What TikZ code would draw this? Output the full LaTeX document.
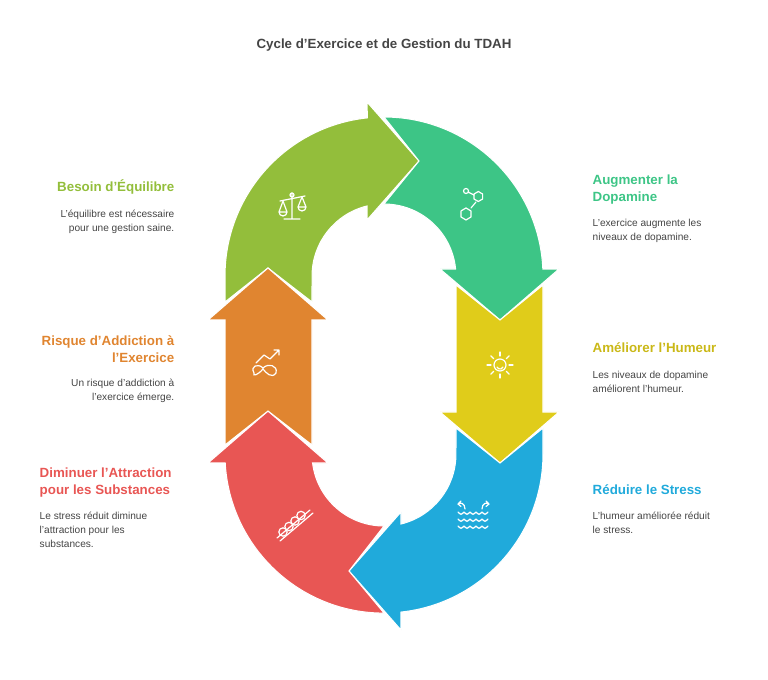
\documentclass[tikz,border=0pt]{standalone}
\usepackage{fontspec}
\setmainfont{Liberation Sans}
\definecolor{clime}{HTML}{93BE3B}
\definecolor{cgreen}{HTML}{3DC586}
\definecolor{cyel}{HTML}{E0CC1A}
\definecolor{cblue}{HTML}{20AADB}
\definecolor{cred}{HTML}{E85654}
\definecolor{corange}{HTML}{E08530}
\definecolor{ctext}{HTML}{444444}
\begin{document}
\begin{tikzpicture}[x=0.75pt,y=0.75pt,
  seg/.style={draw=white,line width=0.8pt,line join=miter},
  ico/.style={draw=white,line width=0.9pt,line cap=round,line join=round},
  head/.style={font=\bfseries\fontsize{10}{12.5}\selectfont},
  body/.style={text=ctext,font=\fontsize{7.6}{10.8}\selectfont}]
\useasboundingbox (0,0) rectangle (768,679);
% lime
\path[seg,fill=clime] (225,377) -- (225,403) arc[start angle=180,end angle=96,radius=159]
  -- (367,577) -- (419,518) -- (367,459) -- (367,473) arc[start angle=103.7,end angle=180,radius=72]
  -- (312,377) -- (268,411) -- cycle;
% green
\path[seg,fill=cgreen] (384,562) arc[start angle=90,end angle=2.5,radius=159]
  -- (559,410) -- (500,359) -- (440,410) -- (455.6,410) arc[start angle=5.6,end angle=90,radius=72]
  -- (419,518) -- cycle;
% yellow
\path[seg,fill=cyel] (456,394) -- (500,359) -- (543,394) -- (543,267) -- (559,267) -- (500,216)
  -- (440,267) -- (456,267) -- cycle;
% blue
\path[seg,fill=cblue] (456,251) -- (500,216) -- (543,251) -- (543,225) arc[start angle=0,end angle=-83.9,radius=159]
  -- (401,49) -- (349,108) -- (401,167) -- (401,155) arc[start angle=-76.3,end angle=0,radius=72] -- cycle;
% red
\path[seg,fill=cred] (384,66) -- (349,108) -- (384,153) arc[start angle=-90,end angle=-172.8,radius=72]
  -- (328,216) -- (268,268) -- (208,216) -- (225.2,216) arc[start angle=-176.8,end angle=-90,radius=159] -- cycle;
% orange
\path[seg,fill=corange] (312,234) -- (268,268) -- (225,234) -- (225,359) -- (208,359) -- (268,411)
  -- (328,359) -- (312,359) -- cycle;

% icons
% scale
\draw[ico] (292,486) -- (292,461) (284,460) -- (300,460) (280,478) -- (305,483);
\draw[ico] (292,484) circle (2);
\draw[ico] (283,478) -- (279,467) -- (287,467) -- cycle (279,467) arc[start angle=180,end angle=360,radius=4];
\draw[ico] (302,482) -- (298,472) -- (306,472) -- cycle (298,472) arc[start angle=180,end angle=360,radius=4];
% molecule
\draw[ico] (466,488) circle (2.5) (468,487) -- (474,484);
\draw[ico] (474,480) -- ++(0,5) -- ++(4.3,2.5) -- ++(4.3,-2.5) -- ++(0,-5) -- ++(-4.3,-2.5) -- cycle;
\draw[ico] (476,477) -- (471,471);
\draw[ico] (461,462) -- ++(0,6) -- ++(5,3) -- ++(5,-3) -- ++(0,-6) -- ++(-5,-3) -- cycle;
% sun
\draw[ico] (500,314) circle (6);
\foreach \a in {0,45,...,315} \draw[ico] (500,314) ++(\a:9) -- ++(\a:4);
\draw[ico] (497,312) arc[start angle=200,end angle=340,radius=3.2];
% trend icon (orange)
\draw[ico] (256,316) -- (264,324) -- (270,320) -- (279,329) (274,329) -- (279,329) -- (279,324);
\draw[ico] (254,306) .. controls (250,313) and (258,316) .. (263,311) .. controls (268,316) and (278,314) .. (276,306)
  .. controls (272,300) and (266,306) .. (263,310) .. controls (258,304) and (252,302) .. (254,306);
% knot
\foreach \i in {0,1,2,3} \draw[ico] (283+\i*6,147+\i*5.5) circle (4.2);
\draw[ico] (277,141) -- (310,169) (280,138) -- (313,166);
% waves
\foreach \yy in {153,160,167} \draw[ico] (458,\yy) .. controls (461,\yy-3) .. (464,\yy) .. controls (467,\yy-3) .. (470,\yy)
  .. controls (473,\yy-3) .. (476,\yy) .. controls (479,\yy-3) .. (482,\yy) .. controls (485,\yy-3) .. (488,\yy);
\draw[ico] (465,170) .. controls (465,176) and (460,177) .. (458,175) (458,175) -- (461,178) (458,175) -- (461,172.5);
\draw[ico] (482,170) .. controls (482,176) and (487,177) .. (489,175) (489,175) -- (486,178) (489,175) -- (486,172.5);

% texts
\node[head,text=ctext] (title) at (384,634) {Cycle d'Exercice et de Gestion du TDAH};
\node[head,text=clime,anchor=east] (t1) at (179,492) {Besoin d'Équilibre};
\node[body,anchor=north east,align=right] (b1) at (179,474) {L'équilibre est nécessaire\\pour une gestion saine.};
\node[head,text=cgreen,anchor=north west,align=left] (t2) at (588,509) {Augmenter la\\Dopamine};
\node[body,anchor=north west,align=left] (b2) at (588,465) {L'exercice augmente les\\niveaux de dopamine.};
\node[head,text=corange,anchor=north east,align=right] (t3) at (179,348) {Risque d'Addiction à\\l'Exercice};
\node[body,anchor=north east,align=right] (b3) at (179,305) {Un risque d'addiction à\\l'exercice émerge.};
\node[head,text=cyel!90!black,anchor=west] (t4) at (588,331) {Améliorer l'Humeur};
\node[body,anchor=north west,align=left] (b4) at (588,313) {Les niveaux de dopamine\\améliorent l'humeur.};
\node[head,text=cred,anchor=north west,align=left] (t5) at (35,216) {Diminuer l'Attraction\\pour les Substances};
\node[body,anchor=north west,align=left] (b5) at (35,172) {Le stress réduit diminue\\l'attraction pour les\\substances.};
\node[head,text=cblue,anchor=west] (t6) at (588,189) {Réduire le Stress};
\node[body,anchor=north west,align=left] (b6) at (588,172) {L'humeur améliorée réduit\\le stress.};
\end{tikzpicture}
\end{document}
